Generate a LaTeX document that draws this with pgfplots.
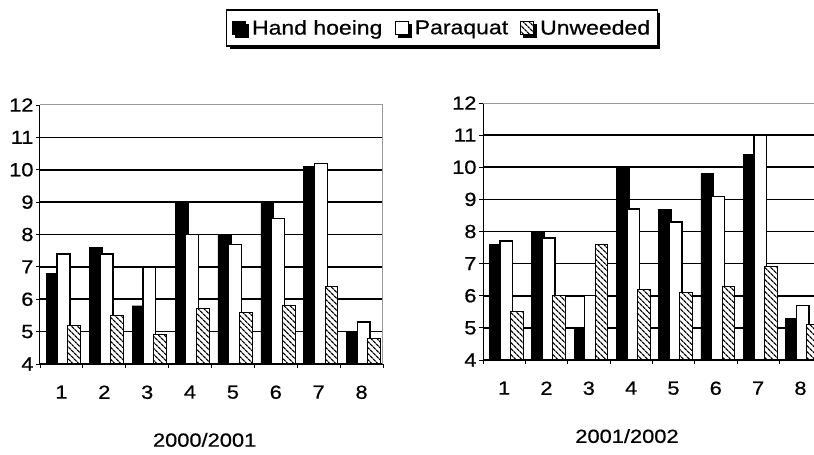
\documentclass[border=0pt]{standalone}
\usepackage{fontspec}
\setmainfont[FakeStretch=1.15,FakeBold=0.6]{Liberation Sans}
\usepackage{pgfplots}
\pgfplotsset{compat=1.18}
\usetikzlibrary{patterns.meta,shadows}

\pgfplotstableread{
g hh pq uw
1 6.8 7.4 5.2
2 7.6 7.4 5.5
3 5.8 7.0 4.9
4 9.0 8.0 5.7
5 8.0 7.7 5.6
6 9.0 8.5 5.8
7 10.1 10.2 6.4
8 5.0 5.3 4.8
}\tabA
\pgfplotstableread{
g hh pq uw
1 7.6 7.7 5.5
2 8.0 7.8 6.0
3 5.0 6.0 7.6
4 10.0 8.7 6.2
5 8.7 8.3 6.1
6 9.8 9.1 6.3
7 10.4 11.0 6.9
8 5.3 5.7 5.1
}\tabB

\pgfplotsset{
  mybars/.style={
    scale only axis, ybar, bar width=0.3,
    xmin=0.5, ymin=4, ymax=12,
    xtick={1,...,8}, xticklabels={1,2,3,4,5,6,7,8},
    minor xtick={0.5,1.5,...,8.5},
    major x tick style={draw=none},
    ytick={4,...,11},
    extra y ticks={12},
    extra y tick style={major grid style={gray!80, line width=1pt}},
    ymajorgrids, major grid style={black, line width=1.6pt},
    axis x line=bottom, axis y line=left,
    axis line style={-, line width=1pt, black},
    tick align=outside, minor tick length=4pt, major tick length=4pt,
    tick style={black, line width=0.8pt},
    /pgf/number format/assume math mode=true,
    tick label style={font=\fontsize{19}{19}\selectfont},
    yticklabel style={xshift=1pt},
    xticklabel style={yshift=-14pt},
    xlabel style={font=\fontsize{19}{19}\selectfont, anchor=center},
  },
  sq/.style={legend image code/.code={\draw[##1] (0pt,-6.5pt) rectangle (13pt,6.5pt); \path (17pt,0pt);}},
  hh/.style={fill=black, draw=black, bar shift=-0.2, sq},
  pq/.style={fill=white, draw=black, line width=1.3pt, bar shift=0.05, sq},
  uw/.style={fill=white, draw=black, line width=1pt, bar shift=0.3, sq,
    postaction={pattern={Lines[angle=-45,distance=4pt,line width=1.3pt]}}},
}

\begin{document}
\begin{tikzpicture}
\path[use as bounding box] (0pt,0pt) rectangle (814pt,455pt);
\begin{axis}[mybars, at={(40pt,91pt)}, anchor=south west,
  width=343pt, height=259pt, xmax=8.5,
  extra x ticks={8.5}, extra x tick labels={},
  extra x tick style={xmajorgrids=true, major grid style={gray!80, line width=1pt}, tick style={draw=none}},
  xlabel={2000/2001},
  xlabel style={at={(axis description cs:0.48,-0.293)}},
  legend columns=3,
  legend style={at={(1.172,1.297)}, anchor=center, draw=black, line width=1.2pt, fill=white,
    font=\fontsize{20}{20}\selectfont, inner xsep=5pt, inner ysep=8pt,
    drop shadow={shadow xshift=3pt, shadow yshift=-3pt, fill=black, opacity=1},
    /tikz/column 2/.style={column sep=10pt},
    /tikz/column 4/.style={column sep=10pt}},
  legend cell align=left,
]
\addplot[hh] table[x=g,y=hh] {\tabA};
\addplot[pq] table[x=g,y=pq] {\tabA};
\addplot[uw] table[x=g,y=uw] {\tabA};
\legend{Hand hoeing, Paraquat, Unweeded}
\end{axis}
\begin{axis}[mybars, at={(483pt,95pt)}, anchor=south west,
  width=331pt, height=257pt, xmax=8.32,
  xlabel={2001/2002},
  xlabel style={at={(axis description cs:0.435,-0.296)}},
]
\addplot[hh] table[x=g,y=hh] {\tabB};
\addplot[pq] table[x=g,y=pq] {\tabB};
\addplot[uw] table[x=g,y=uw] {\tabB};
\end{axis}
\end{tikzpicture}
\end{document}
